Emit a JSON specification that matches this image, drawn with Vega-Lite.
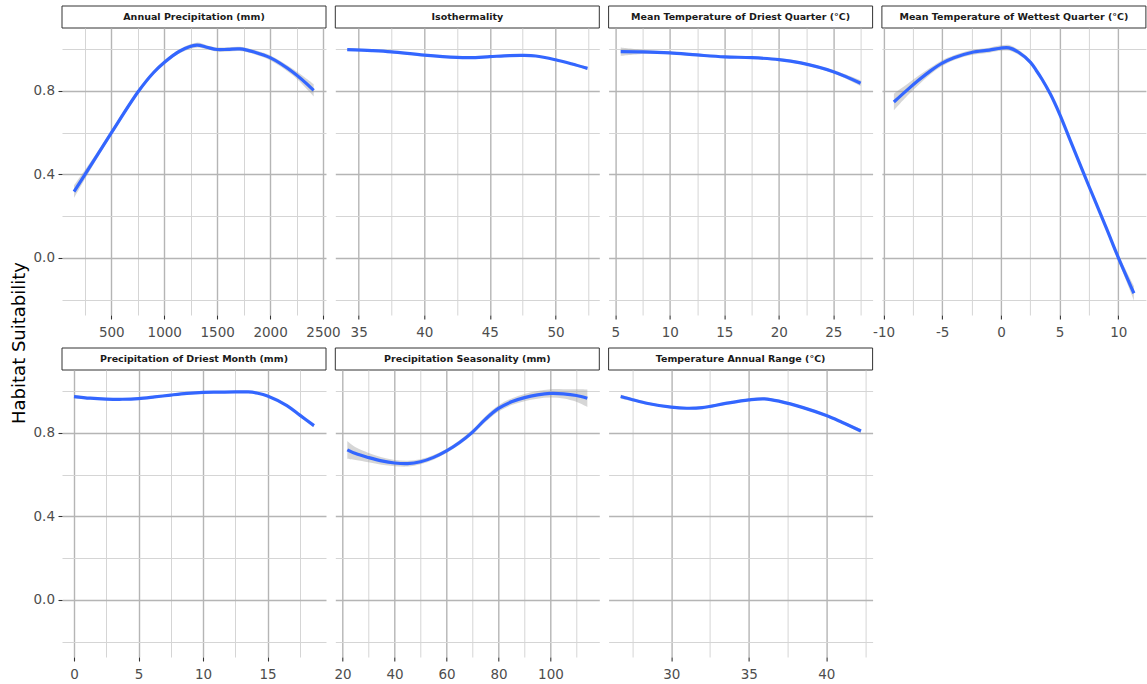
{
  "$schema": "https://vega.github.io/schema/vega-lite/v6.json",
  "padding": {"left": 11, "top": 5, "right": 0, "bottom": 0},
  "background": "white",
  "title": {"text": "Habitat Suitability", "orient": "left", "anchor": "middle", "font": "DejaVu Sans", "fontSize": 18, "fontWeight": "normal", "color": "#000000", "offset": 4},
  "config": {
    "view": {"stroke": null},
    "axis": {"domain": false, "labelFont": "DejaVu Sans", "labelFontSize": 13.5, "labelColor": "#4d4d4d", "tickColor": "#333333", "tickSize": 4, "tickWidth": 1.1, "gridColor": "#b5b5b5", "gridWidth": 1.4, "labelFlush": false, "labelOverlap": false, "labelBound": false, "labelPadding": 3.5},
    "axisX": {"labelPadding": 6}
  },
  "datasets": {
    "curves": [
      {"v": "Annual Precipitation (mm)", "x": 148, "y": 0.317, "lo": 0.287, "hi": 0.347},
      {"v": "Annual Precipitation (mm)", "x": 300, "y": 0.438, "lo": 0.420, "hi": 0.456},
      {"v": "Annual Precipitation (mm)", "x": 500, "y": 0.598, "lo": 0.586, "hi": 0.610},
      {"v": "Annual Precipitation (mm)", "x": 755, "y": 0.796, "lo": 0.786, "hi": 0.806},
      {"v": "Annual Precipitation (mm)", "x": 900, "y": 0.887, "lo": 0.877, "hi": 0.897},
      {"v": "Annual Precipitation (mm)", "x": 1000, "y": 0.935, "lo": 0.925, "hi": 0.945},
      {"v": "Annual Precipitation (mm)", "x": 1149, "y": 0.990, "lo": 0.980, "hi": 1.000},
      {"v": "Annual Precipitation (mm)", "x": 1307, "y": 1.018, "lo": 1.006, "hi": 1.030},
      {"v": "Annual Precipitation (mm)", "x": 1400, "y": 1.008, "lo": 0.998, "hi": 1.018},
      {"v": "Annual Precipitation (mm)", "x": 1500, "y": 0.997, "lo": 0.987, "hi": 1.007},
      {"v": "Annual Precipitation (mm)", "x": 1600, "y": 0.998, "lo": 0.988, "hi": 1.008},
      {"v": "Annual Precipitation (mm)", "x": 1716, "y": 1.000, "lo": 0.990, "hi": 1.010},
      {"v": "Annual Precipitation (mm)", "x": 1850, "y": 0.985, "lo": 0.975, "hi": 0.995},
      {"v": "Annual Precipitation (mm)", "x": 2000, "y": 0.958, "lo": 0.946, "hi": 0.970},
      {"v": "Annual Precipitation (mm)", "x": 2220, "y": 0.887, "lo": 0.871, "hi": 0.903},
      {"v": "Annual Precipitation (mm)", "x": 2412, "y": 0.802, "lo": 0.772, "hi": 0.832},

      {"v": "Isothermality", "x": 34.13, "y": 0.997, "lo": 0.991, "hi": 1.003},
      {"v": "Isothermality", "x": 36, "y": 0.992, "lo": 0.987, "hi": 0.997},
      {"v": "Isothermality", "x": 37.5, "y": 0.986, "lo": 0.981, "hi": 0.991},
      {"v": "Isothermality", "x": 40, "y": 0.970, "lo": 0.965, "hi": 0.975},
      {"v": "Isothermality", "x": 42.5, "y": 0.959, "lo": 0.954, "hi": 0.964},
      {"v": "Isothermality", "x": 43.5, "y": 0.958, "lo": 0.953, "hi": 0.963},
      {"v": "Isothermality", "x": 45, "y": 0.963, "lo": 0.958, "hi": 0.968},
      {"v": "Isothermality", "x": 46.5, "y": 0.968, "lo": 0.963, "hi": 0.973},
      {"v": "Isothermality", "x": 47.5, "y": 0.969, "lo": 0.964, "hi": 0.974},
      {"v": "Isothermality", "x": 48.5, "y": 0.966, "lo": 0.961, "hi": 0.971},
      {"v": "Isothermality", "x": 50, "y": 0.948, "lo": 0.943, "hi": 0.953},
      {"v": "Isothermality", "x": 51.2, "y": 0.929, "lo": 0.923, "hi": 0.935},
      {"v": "Isothermality", "x": 52.44, "y": 0.907, "lo": 0.900, "hi": 0.914},

      {"v": "Mean Temperature of Driest Quarter (°C)", "x": 5.49, "y": 0.987, "lo": 0.967, "hi": 1.007},
      {"v": "Mean Temperature of Driest Quarter (°C)", "x": 7.5, "y": 0.986, "lo": 0.976, "hi": 0.996},
      {"v": "Mean Temperature of Driest Quarter (°C)", "x": 10, "y": 0.981, "lo": 0.975, "hi": 0.987},
      {"v": "Mean Temperature of Driest Quarter (°C)", "x": 12.5, "y": 0.971, "lo": 0.965, "hi": 0.977},
      {"v": "Mean Temperature of Driest Quarter (°C)", "x": 15, "y": 0.962, "lo": 0.956, "hi": 0.968},
      {"v": "Mean Temperature of Driest Quarter (°C)", "x": 17.5, "y": 0.958, "lo": 0.952, "hi": 0.964},
      {"v": "Mean Temperature of Driest Quarter (°C)", "x": 20, "y": 0.949, "lo": 0.943, "hi": 0.955},
      {"v": "Mean Temperature of Driest Quarter (°C)", "x": 22, "y": 0.933, "lo": 0.926, "hi": 0.940},
      {"v": "Mean Temperature of Driest Quarter (°C)", "x": 25, "y": 0.891, "lo": 0.883, "hi": 0.899},
      {"v": "Mean Temperature of Driest Quarter (°C)", "x": 27.5, "y": 0.836, "lo": 0.822, "hi": 0.850},

      {"v": "Mean Temperature of Wettest Quarter (°C)", "x": -9.12, "y": 0.746, "lo": 0.706, "hi": 0.786},
      {"v": "Mean Temperature of Wettest Quarter (°C)", "x": -8, "y": 0.803, "lo": 0.775, "hi": 0.831},
      {"v": "Mean Temperature of Wettest Quarter (°C)", "x": -7, "y": 0.851, "lo": 0.829, "hi": 0.873},
      {"v": "Mean Temperature of Wettest Quarter (°C)", "x": -6, "y": 0.895, "lo": 0.879, "hi": 0.911},
      {"v": "Mean Temperature of Wettest Quarter (°C)", "x": -5, "y": 0.932, "lo": 0.918, "hi": 0.946},
      {"v": "Mean Temperature of Wettest Quarter (°C)", "x": -4, "y": 0.958, "lo": 0.946, "hi": 0.970},
      {"v": "Mean Temperature of Wettest Quarter (°C)", "x": -2.5, "y": 0.983, "lo": 0.971, "hi": 0.995},
      {"v": "Mean Temperature of Wettest Quarter (°C)", "x": -1, "y": 0.994, "lo": 0.982, "hi": 1.006},
      {"v": "Mean Temperature of Wettest Quarter (°C)", "x": 0, "y": 1.004, "lo": 0.991, "hi": 1.017},
      {"v": "Mean Temperature of Wettest Quarter (°C)", "x": 0.7, "y": 1.005, "lo": 0.991, "hi": 1.019},
      {"v": "Mean Temperature of Wettest Quarter (°C)", "x": 1.5, "y": 0.984, "lo": 0.972, "hi": 0.996},
      {"v": "Mean Temperature of Wettest Quarter (°C)", "x": 2.5, "y": 0.937, "lo": 0.927, "hi": 0.947},
      {"v": "Mean Temperature of Wettest Quarter (°C)", "x": 3, "y": 0.898, "lo": 0.888, "hi": 0.908},
      {"v": "Mean Temperature of Wettest Quarter (°C)", "x": 3.5, "y": 0.855, "lo": 0.845, "hi": 0.865},
      {"v": "Mean Temperature of Wettest Quarter (°C)", "x": 4.2, "y": 0.785, "lo": 0.775, "hi": 0.795},
      {"v": "Mean Temperature of Wettest Quarter (°C)", "x": 5, "y": 0.688, "lo": 0.678, "hi": 0.698},
      {"v": "Mean Temperature of Wettest Quarter (°C)", "x": 6, "y": 0.549, "lo": 0.539, "hi": 0.559},
      {"v": "Mean Temperature of Wettest Quarter (°C)", "x": 7.5, "y": 0.343, "lo": 0.333, "hi": 0.353},
      {"v": "Mean Temperature of Wettest Quarter (°C)", "x": 9, "y": 0.140, "lo": 0.128, "hi": 0.152},
      {"v": "Mean Temperature of Wettest Quarter (°C)", "x": 10, "y": 0.002, "lo": -0.014, "hi": 0.018},
      {"v": "Mean Temperature of Wettest Quarter (°C)", "x": 11.33, "y": -0.169, "lo": -0.204, "hi": -0.134},

      {"v": "Precipitation of Driest Month (mm)", "x": 0, "y": 0.973, "lo": 0.965, "hi": 0.981},
      {"v": "Precipitation of Driest Month (mm)", "x": 1.25, "y": 0.965, "lo": 0.960, "hi": 0.970},
      {"v": "Precipitation of Driest Month (mm)", "x": 2.5, "y": 0.961, "lo": 0.956, "hi": 0.966},
      {"v": "Precipitation of Driest Month (mm)", "x": 3.75, "y": 0.960, "lo": 0.955, "hi": 0.965},
      {"v": "Precipitation of Driest Month (mm)", "x": 5, "y": 0.963, "lo": 0.958, "hi": 0.968},
      {"v": "Precipitation of Driest Month (mm)", "x": 6.25, "y": 0.971, "lo": 0.966, "hi": 0.976},
      {"v": "Precipitation of Driest Month (mm)", "x": 7.5, "y": 0.980, "lo": 0.975, "hi": 0.985},
      {"v": "Precipitation of Driest Month (mm)", "x": 8.75, "y": 0.988, "lo": 0.983, "hi": 0.993},
      {"v": "Precipitation of Driest Month (mm)", "x": 10, "y": 0.993, "lo": 0.988, "hi": 0.998},
      {"v": "Precipitation of Driest Month (mm)", "x": 11.25, "y": 0.994, "lo": 0.989, "hi": 0.999},
      {"v": "Precipitation of Driest Month (mm)", "x": 12.5, "y": 0.995, "lo": 0.990, "hi": 1.000},
      {"v": "Precipitation of Driest Month (mm)", "x": 13.5, "y": 0.995, "lo": 0.990, "hi": 1.000},
      {"v": "Precipitation of Driest Month (mm)", "x": 14.25, "y": 0.989, "lo": 0.984, "hi": 0.994},
      {"v": "Precipitation of Driest Month (mm)", "x": 15, "y": 0.976, "lo": 0.971, "hi": 0.981},
      {"v": "Precipitation of Driest Month (mm)", "x": 16.5, "y": 0.930, "lo": 0.925, "hi": 0.935},
      {"v": "Precipitation of Driest Month (mm)", "x": 17.5, "y": 0.884, "lo": 0.878, "hi": 0.890},
      {"v": "Precipitation of Driest Month (mm)", "x": 18.6, "y": 0.834, "lo": 0.826, "hi": 0.842},

      {"v": "Precipitation Seasonality (mm)", "x": 21.8, "y": 0.718, "lo": 0.676, "hi": 0.760},
      {"v": "Precipitation Seasonality (mm)", "x": 25, "y": 0.700, "lo": 0.670, "hi": 0.730},
      {"v": "Precipitation Seasonality (mm)", "x": 30, "y": 0.681, "lo": 0.659, "hi": 0.703},
      {"v": "Precipitation Seasonality (mm)", "x": 35, "y": 0.665, "lo": 0.647, "hi": 0.683},
      {"v": "Precipitation Seasonality (mm)", "x": 40, "y": 0.655, "lo": 0.640, "hi": 0.670},
      {"v": "Precipitation Seasonality (mm)", "x": 45, "y": 0.652, "lo": 0.638, "hi": 0.666},
      {"v": "Precipitation Seasonality (mm)", "x": 50, "y": 0.661, "lo": 0.649, "hi": 0.673},
      {"v": "Precipitation Seasonality (mm)", "x": 55, "y": 0.682, "lo": 0.671, "hi": 0.693},
      {"v": "Precipitation Seasonality (mm)", "x": 60, "y": 0.713, "lo": 0.703, "hi": 0.723},
      {"v": "Precipitation Seasonality (mm)", "x": 65, "y": 0.753, "lo": 0.742, "hi": 0.764},
      {"v": "Precipitation Seasonality (mm)", "x": 70, "y": 0.803, "lo": 0.791, "hi": 0.815},
      {"v": "Precipitation Seasonality (mm)", "x": 75, "y": 0.865, "lo": 0.851, "hi": 0.879},
      {"v": "Precipitation Seasonality (mm)", "x": 80, "y": 0.916, "lo": 0.901, "hi": 0.931},
      {"v": "Precipitation Seasonality (mm)", "x": 85, "y": 0.948, "lo": 0.932, "hi": 0.964},
      {"v": "Precipitation Seasonality (mm)", "x": 90, "y": 0.968, "lo": 0.951, "hi": 0.985},
      {"v": "Precipitation Seasonality (mm)", "x": 95, "y": 0.981, "lo": 0.963, "hi": 0.999},
      {"v": "Precipitation Seasonality (mm)", "x": 100, "y": 0.988, "lo": 0.968, "hi": 1.008},
      {"v": "Precipitation Seasonality (mm)", "x": 105, "y": 0.986, "lo": 0.964, "hi": 1.008},
      {"v": "Precipitation Seasonality (mm)", "x": 110, "y": 0.978, "lo": 0.948, "hi": 1.008},
      {"v": "Precipitation Seasonality (mm)", "x": 114.2, "y": 0.965, "lo": 0.923, "hi": 1.007},

      {"v": "Temperature Annual Range (°C)", "x": 26.74, "y": 0.973, "lo": 0.963, "hi": 0.983},
      {"v": "Temperature Annual Range (°C)", "x": 27.5, "y": 0.958, "lo": 0.951, "hi": 0.965},
      {"v": "Temperature Annual Range (°C)", "x": 28.5, "y": 0.940, "lo": 0.934, "hi": 0.946},
      {"v": "Temperature Annual Range (°C)", "x": 30, "y": 0.922, "lo": 0.916, "hi": 0.928},
      {"v": "Temperature Annual Range (°C)", "x": 31, "y": 0.917, "lo": 0.911, "hi": 0.923},
      {"v": "Temperature Annual Range (°C)", "x": 32, "y": 0.920, "lo": 0.914, "hi": 0.926},
      {"v": "Temperature Annual Range (°C)", "x": 33.5, "y": 0.940, "lo": 0.934, "hi": 0.946},
      {"v": "Temperature Annual Range (°C)", "x": 35, "y": 0.957, "lo": 0.951, "hi": 0.963},
      {"v": "Temperature Annual Range (°C)", "x": 36, "y": 0.962, "lo": 0.956, "hi": 0.968},
      {"v": "Temperature Annual Range (°C)", "x": 37, "y": 0.950, "lo": 0.944, "hi": 0.956},
      {"v": "Temperature Annual Range (°C)", "x": 38.5, "y": 0.920, "lo": 0.914, "hi": 0.926},
      {"v": "Temperature Annual Range (°C)", "x": 40, "y": 0.882, "lo": 0.876, "hi": 0.888},
      {"v": "Temperature Annual Range (°C)", "x": 41, "y": 0.850, "lo": 0.844, "hi": 0.856},
      {"v": "Temperature Annual Range (°C)", "x": 42.23, "y": 0.808, "lo": 0.798, "hi": 0.818}
    ]
  },
  "columns": 4,
  "bounds": "flush",
  "spacing": {"row": 0, "column": 9.3},
  "concat": [
    {"width": 264, "height": 22, "data": {"values": [{"label": "Annual Precipitation (mm)"}]},
     "layer": [
      {"mark": {"type": "rect", "fill": "white", "stroke": "#333333", "strokeWidth": 1},
       "encoding": {"x": {"datum": 0, "type": "quantitative", "scale": {"domain": [0, 1], "nice": false, "zero": false}, "axis": null}, "x2": {"datum": 1},
                    "y": {"datum": 0, "type": "quantitative", "scale": {"domain": [0, 1], "nice": false, "zero": false}, "axis": null}, "y2": {"datum": 1}}},
      {"mark": {"type": "text", "font": "DejaVu Sans", "fontWeight": "bold", "fontSize": 9.5, "color": "#1a1a1a", "baseline": "middle"},
       "encoding": {"text": {"field": "label"}, "x": {"datum": 0.5, "type": "quantitative"}, "y": {"datum": 0.5, "type": "quantitative"}}}
     ]},
    {"width": 264, "height": 22, "data": {"values": [{"label": "Isothermality"}]},
     "layer": [
      {"mark": {"type": "rect", "fill": "white", "stroke": "#333333", "strokeWidth": 1},
       "encoding": {"x": {"datum": 0, "type": "quantitative", "scale": {"domain": [0, 1], "nice": false, "zero": false}, "axis": null}, "x2": {"datum": 1},
                    "y": {"datum": 0, "type": "quantitative", "scale": {"domain": [0, 1], "nice": false, "zero": false}, "axis": null}, "y2": {"datum": 1}}},
      {"mark": {"type": "text", "font": "DejaVu Sans", "fontWeight": "bold", "fontSize": 9.5, "color": "#1a1a1a", "baseline": "middle"},
       "encoding": {"text": {"field": "label"}, "x": {"datum": 0.5, "type": "quantitative"}, "y": {"datum": 0.5, "type": "quantitative"}}}
     ]},
    {"width": 264, "height": 22, "data": {"values": [{"label": "Mean Temperature of Driest Quarter (°C)"}]},
     "layer": [
      {"mark": {"type": "rect", "fill": "white", "stroke": "#333333", "strokeWidth": 1},
       "encoding": {"x": {"datum": 0, "type": "quantitative", "scale": {"domain": [0, 1], "nice": false, "zero": false}, "axis": null}, "x2": {"datum": 1},
                    "y": {"datum": 0, "type": "quantitative", "scale": {"domain": [0, 1], "nice": false, "zero": false}, "axis": null}, "y2": {"datum": 1}}},
      {"mark": {"type": "text", "font": "DejaVu Sans", "fontWeight": "bold", "fontSize": 9.5, "color": "#1a1a1a", "baseline": "middle"},
       "encoding": {"text": {"field": "label"}, "x": {"datum": 0.5, "type": "quantitative"}, "y": {"datum": 0.5, "type": "quantitative"}}}
     ]},
    {"width": 264, "height": 22, "data": {"values": [{"label": "Mean Temperature of Wettest Quarter (°C)"}]},
     "layer": [
      {"mark": {"type": "rect", "fill": "white", "stroke": "#333333", "strokeWidth": 1},
       "encoding": {"x": {"datum": 0, "type": "quantitative", "scale": {"domain": [0, 1], "nice": false, "zero": false}, "axis": null}, "x2": {"datum": 1},
                    "y": {"datum": 0, "type": "quantitative", "scale": {"domain": [0, 1], "nice": false, "zero": false}, "axis": null}, "y2": {"datum": 1}}},
      {"mark": {"type": "text", "font": "DejaVu Sans", "fontWeight": "bold", "fontSize": 9.5, "color": "#1a1a1a", "baseline": "middle"},
       "encoding": {"text": {"field": "label"}, "x": {"datum": 0.5, "type": "quantitative"}, "y": {"datum": 0.5, "type": "quantitative"}}}
     ]},

    {"width": 264, "height": 287, "data": {"name": "curves"},
     "transform": [{"filter": {"field": "v", "equal": "Annual Precipitation (mm)"}}],
     "layer": [
      {"mark": {"type": "area", "orient": "vertical", "interpolate": "catmull-rom", "color": "#999999", "opacity": 0.4},
       "encoding": {
        "x": {"field": "x", "type": "quantitative", "scale": {"domain": [34.2, 2528.3], "nice": false, "zero": false}, "axis": {"title": null, "orient": "bottom", "grid": true, "values": [250, 750, 1250, 1750, 2250], "labels": false, "ticks": false, "gridColor": "#d5d5d5", "gridWidth": 1}},
        "y": {"field": "lo", "type": "quantitative", "scale": {"domain": [-0.273, 1.1], "nice": false, "zero": false}, "axis": {"title": null, "orient": "left", "grid": true, "values": [-0.2, 0.2, 0.6, 1.0], "labels": false, "ticks": false, "gridColor": "#d5d5d5", "gridWidth": 1}},
        "y2": {"field": "hi"}}},
      {"mark": {"type": "line", "interpolate": "catmull-rom", "color": "#3366FF", "strokeWidth": 3.2},
       "encoding": {
        "x": {"field": "x", "type": "quantitative", "axis": {"title": null, "orient": "bottom", "grid": true, "values": [500, 1000, 1500, 2000, 2500], "labelExpr": "datum.value + ''"}},
        "y": {"field": "y", "type": "quantitative", "axis": {"title": null, "orient": "left", "grid": true, "values": [0, 0.4, 0.8], "labelExpr": "format(datum.value, '.1f')"}}}}
     ],
     "resolve": {"axis": {"x": "independent", "y": "independent"}}},

    {"width": 264, "height": 287, "data": {"name": "curves"},
     "transform": [{"filter": {"field": "v", "equal": "Isothermality"}}],
     "layer": [
      {"mark": {"type": "area", "orient": "vertical", "interpolate": "catmull-rom", "color": "#999999", "opacity": 0.4},
       "encoding": {
        "x": {"field": "x", "type": "quantitative", "scale": {"domain": [33.22, 53.34], "nice": false, "zero": false}, "axis": {"title": null, "orient": "bottom", "grid": true, "values": [37.5, 42.5, 47.5, 52.5], "labels": false, "ticks": false, "gridColor": "#d5d5d5", "gridWidth": 1}},
        "y": {"field": "lo", "type": "quantitative", "scale": {"domain": [-0.273, 1.1], "nice": false, "zero": false}, "axis": {"title": null, "orient": "left", "grid": true, "values": [-0.2, 0.2, 0.6, 1.0], "labels": false, "ticks": false, "gridColor": "#d5d5d5", "gridWidth": 1}},
        "y2": {"field": "hi"}}},
      {"mark": {"type": "line", "interpolate": "catmull-rom", "color": "#3366FF", "strokeWidth": 3.2},
       "encoding": {
        "x": {"field": "x", "type": "quantitative", "axis": {"title": null, "orient": "bottom", "grid": true, "values": [35, 40, 45, 50], "labelExpr": "datum.value + ''"}},
        "y": {"field": "y", "type": "quantitative", "axis": {"title": null, "orient": "left", "grid": true, "values": [0, 0.4, 0.8], "labels": false, "ticks": false}}}}
     ],
     "resolve": {"axis": {"x": "independent", "y": "independent"}}},

    {"width": 264, "height": 287, "data": {"name": "curves"},
     "transform": [{"filter": {"field": "v", "equal": "Mean Temperature of Driest Quarter (°C)"}}],
     "layer": [
      {"mark": {"type": "area", "orient": "vertical", "interpolate": "catmull-rom", "color": "#999999", "opacity": 0.4},
       "encoding": {
        "x": {"field": "x", "type": "quantitative", "scale": {"domain": [4.38, 28.6], "nice": false, "zero": false}, "axis": {"title": null, "orient": "bottom", "grid": true, "values": [7.5, 12.5, 17.5, 22.5, 27.5], "labels": false, "ticks": false, "gridColor": "#d5d5d5", "gridWidth": 1}},
        "y": {"field": "lo", "type": "quantitative", "scale": {"domain": [-0.273, 1.1], "nice": false, "zero": false}, "axis": {"title": null, "orient": "left", "grid": true, "values": [-0.2, 0.2, 0.6, 1.0], "labels": false, "ticks": false, "gridColor": "#d5d5d5", "gridWidth": 1}},
        "y2": {"field": "hi"}}},
      {"mark": {"type": "line", "interpolate": "catmull-rom", "color": "#3366FF", "strokeWidth": 3.2},
       "encoding": {
        "x": {"field": "x", "type": "quantitative", "axis": {"title": null, "orient": "bottom", "grid": true, "values": [5, 10, 15, 20, 25], "labelExpr": "datum.value + ''"}},
        "y": {"field": "y", "type": "quantitative", "axis": {"title": null, "orient": "left", "grid": true, "values": [0, 0.4, 0.8], "labels": false, "ticks": false}}}}
     ],
     "resolve": {"axis": {"x": "independent", "y": "independent"}}},

    {"width": 264, "height": 287, "data": {"name": "curves"},
     "transform": [{"filter": {"field": "v", "equal": "Mean Temperature of Wettest Quarter (°C)"}}],
     "layer": [
      {"mark": {"type": "area", "orient": "vertical", "interpolate": "catmull-rom", "color": "#999999", "opacity": 0.4},
       "encoding": {
        "x": {"field": "x", "type": "quantitative", "scale": {"domain": [-10.14, 12.35], "nice": false, "zero": false}, "axis": {"title": null, "orient": "bottom", "grid": true, "values": [-7.5, -2.5, 2.5, 7.5], "labels": false, "ticks": false, "gridColor": "#d5d5d5", "gridWidth": 1}},
        "y": {"field": "lo", "type": "quantitative", "scale": {"domain": [-0.273, 1.1], "nice": false, "zero": false}, "axis": {"title": null, "orient": "left", "grid": true, "values": [-0.2, 0.2, 0.6, 1.0], "labels": false, "ticks": false, "gridColor": "#d5d5d5", "gridWidth": 1}},
        "y2": {"field": "hi"}}},
      {"mark": {"type": "line", "interpolate": "catmull-rom", "color": "#3366FF", "strokeWidth": 3.2},
       "encoding": {
        "x": {"field": "x", "type": "quantitative", "axis": {"title": null, "orient": "bottom", "grid": true, "values": [-10, -5, 0, 5, 10], "labelExpr": "datum.value + ''"}},
        "y": {"field": "y", "type": "quantitative", "axis": {"title": null, "orient": "left", "grid": true, "values": [0, 0.4, 0.8], "labels": false, "ticks": false}}}}
     ],
     "resolve": {"axis": {"x": "independent", "y": "independent"}}},

    {"width": 264, "height": 55, "data": {"values": [{"label": "Precipitation of Driest Month (mm)"}]},
     "layer": [
      {"mark": {"type": "rect", "fill": "white", "stroke": "#333333", "strokeWidth": 1},
       "encoding": {"x": {"datum": 0, "type": "quantitative", "scale": {"domain": [0, 1], "nice": false, "zero": false}, "axis": null}, "x2": {"datum": 1},
                    "y": {"datum": 0, "type": "quantitative", "scale": {"domain": [0, 2.5], "nice": false, "zero": false}, "axis": null}, "y2": {"datum": 1}}},
      {"mark": {"type": "text", "font": "DejaVu Sans", "fontWeight": "bold", "fontSize": 9.5, "color": "#1a1a1a", "baseline": "middle"},
       "encoding": {"text": {"field": "label"}, "x": {"datum": 0.5, "type": "quantitative"}, "y": {"datum": 0.5, "type": "quantitative"}}}
     ]},
    {"width": 264, "height": 55, "data": {"values": [{"label": "Precipitation Seasonality (mm)"}]},
     "layer": [
      {"mark": {"type": "rect", "fill": "white", "stroke": "#333333", "strokeWidth": 1},
       "encoding": {"x": {"datum": 0, "type": "quantitative", "scale": {"domain": [0, 1], "nice": false, "zero": false}, "axis": null}, "x2": {"datum": 1},
                    "y": {"datum": 0, "type": "quantitative", "scale": {"domain": [0, 2.5], "nice": false, "zero": false}, "axis": null}, "y2": {"datum": 1}}},
      {"mark": {"type": "text", "font": "DejaVu Sans", "fontWeight": "bold", "fontSize": 9.5, "color": "#1a1a1a", "baseline": "middle"},
       "encoding": {"text": {"field": "label"}, "x": {"datum": 0.5, "type": "quantitative"}, "y": {"datum": 0.5, "type": "quantitative"}}}
     ]},
    {"width": 264, "height": 55, "data": {"values": [{"label": "Temperature Annual Range (°C)"}]},
     "layer": [
      {"mark": {"type": "rect", "fill": "white", "stroke": "#333333", "strokeWidth": 1},
       "encoding": {"x": {"datum": 0, "type": "quantitative", "scale": {"domain": [0, 1], "nice": false, "zero": false}, "axis": null}, "x2": {"datum": 1},
                    "y": {"datum": 0, "type": "quantitative", "scale": {"domain": [0, 2.5], "nice": false, "zero": false}, "axis": null}, "y2": {"datum": 1}}},
      {"mark": {"type": "text", "font": "DejaVu Sans", "fontWeight": "bold", "fontSize": 9.5, "color": "#1a1a1a", "baseline": "middle"},
       "encoding": {"text": {"field": "label"}, "x": {"datum": 0.5, "type": "quantitative"}, "y": {"datum": 0.5, "type": "quantitative"}}}
     ]},
    {"width": 264, "height": 55, "data": {"values": []}, "mark": "point", "encoding": {}},

    {"width": 264, "height": 287, "data": {"name": "curves"},
     "transform": [{"filter": {"field": "v", "equal": "Precipitation of Driest Month (mm)"}}],
     "layer": [
      {"mark": {"type": "area", "orient": "vertical", "interpolate": "catmull-rom", "color": "#999999", "opacity": 0.4},
       "encoding": {
        "x": {"field": "x", "type": "quantitative", "scale": {"domain": [-0.93, 19.53], "nice": false, "zero": false}, "axis": {"title": null, "orient": "bottom", "grid": true, "values": [2.5, 7.5, 12.5, 17.5], "labels": false, "ticks": false, "gridColor": "#d5d5d5", "gridWidth": 1}},
        "y": {"field": "lo", "type": "quantitative", "scale": {"domain": [-0.273, 1.1], "nice": false, "zero": false}, "axis": {"title": null, "orient": "left", "grid": true, "values": [-0.2, 0.2, 0.6, 1.0], "labels": false, "ticks": false, "gridColor": "#d5d5d5", "gridWidth": 1}},
        "y2": {"field": "hi"}}},
      {"mark": {"type": "line", "interpolate": "catmull-rom", "color": "#3366FF", "strokeWidth": 3.2},
       "encoding": {
        "x": {"field": "x", "type": "quantitative", "axis": {"title": null, "orient": "bottom", "grid": true, "values": [0, 5, 10, 15], "labelExpr": "datum.value + ''"}},
        "y": {"field": "y", "type": "quantitative", "axis": {"title": null, "orient": "left", "grid": true, "values": [0, 0.4, 0.8], "labelExpr": "format(datum.value, '.1f')"}}}}
     ],
     "resolve": {"axis": {"x": "independent", "y": "independent"}}},

    {"width": 264, "height": 287, "data": {"name": "curves"},
     "transform": [{"filter": {"field": "v", "equal": "Precipitation Seasonality (mm)"}}],
     "layer": [
      {"mark": {"type": "area", "orient": "vertical", "interpolate": "catmull-rom", "color": "#999999", "opacity": 0.4},
       "encoding": {
        "x": {"field": "x", "type": "quantitative", "scale": {"domain": [17.18, 118.8], "nice": false, "zero": false}, "axis": {"title": null, "orient": "bottom", "grid": true, "values": [30, 50, 70, 90, 110], "labels": false, "ticks": false, "gridColor": "#d5d5d5", "gridWidth": 1}},
        "y": {"field": "lo", "type": "quantitative", "scale": {"domain": [-0.273, 1.1], "nice": false, "zero": false}, "axis": {"title": null, "orient": "left", "grid": true, "values": [-0.2, 0.2, 0.6, 1.0], "labels": false, "ticks": false, "gridColor": "#d5d5d5", "gridWidth": 1}},
        "y2": {"field": "hi"}}},
      {"mark": {"type": "line", "interpolate": "catmull-rom", "color": "#3366FF", "strokeWidth": 3.2},
       "encoding": {
        "x": {"field": "x", "type": "quantitative", "axis": {"title": null, "orient": "bottom", "grid": true, "values": [20, 40, 60, 80, 100], "labelExpr": "datum.value + ''"}},
        "y": {"field": "y", "type": "quantitative", "axis": {"title": null, "orient": "left", "grid": true, "values": [0, 0.4, 0.8], "labels": false, "ticks": false}}}}
     ],
     "resolve": {"axis": {"x": "independent", "y": "independent"}}},

    {"width": 264, "height": 287, "data": {"name": "curves"},
     "transform": [{"filter": {"field": "v", "equal": "Temperature Annual Range (°C)"}}],
     "layer": [
      {"mark": {"type": "area", "orient": "vertical", "interpolate": "catmull-rom", "color": "#999999", "opacity": 0.4},
       "encoding": {
        "x": {"field": "x", "type": "quantitative", "scale": {"domain": [25.96, 42.98], "nice": false, "zero": false}, "axis": {"title": null, "orient": "bottom", "grid": true, "values": [27.5, 32.5, 37.5, 42.5], "labels": false, "ticks": false, "gridColor": "#d5d5d5", "gridWidth": 1}},
        "y": {"field": "lo", "type": "quantitative", "scale": {"domain": [-0.273, 1.1], "nice": false, "zero": false}, "axis": {"title": null, "orient": "left", "grid": true, "values": [-0.2, 0.2, 0.6, 1.0], "labels": false, "ticks": false, "gridColor": "#d5d5d5", "gridWidth": 1}},
        "y2": {"field": "hi"}}},
      {"mark": {"type": "line", "interpolate": "catmull-rom", "color": "#3366FF", "strokeWidth": 3.2},
       "encoding": {
        "x": {"field": "x", "type": "quantitative", "axis": {"title": null, "orient": "bottom", "grid": true, "values": [30, 35, 40], "labelExpr": "datum.value + ''"}},
        "y": {"field": "y", "type": "quantitative", "axis": {"title": null, "orient": "left", "grid": true, "values": [0, 0.4, 0.8], "labels": false, "ticks": false}}}}
     ],
     "resolve": {"axis": {"x": "independent", "y": "independent"}}}
  ]
}
